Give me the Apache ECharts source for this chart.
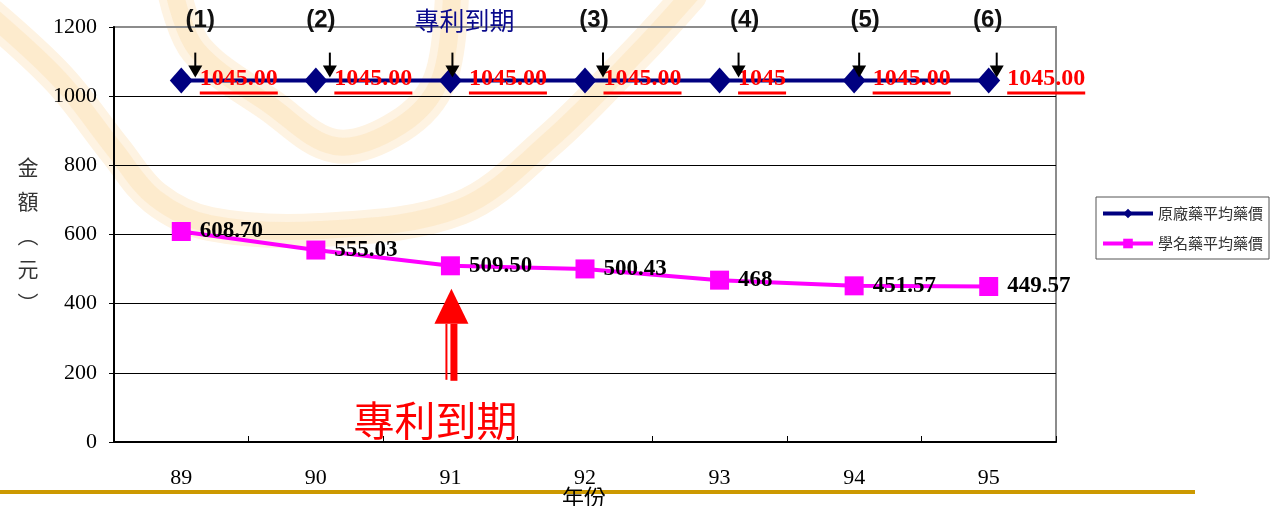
<!DOCTYPE html>
<html>
<head>
<meta charset="utf-8">
<script src="https://cdn.jsdelivr.net/npm/echarts@6/dist/echarts.min.js"></script>
<style>
  html, body { margin: 0; padding: 0; background: #ffffff; }
  #chart { width: 1270px; height: 506px; }
</style>
</head>
<body>
<div id="chart"></div>
<script>
// ---- data ----
const years = ['89', '90', '91', '92', '93', '94', '95'];
const seriesNames = ['原廠藥平均藥價', '學名藥平均藥價'];
const brandPrices = [1045, 1045, 1045, 1045, 1045, 1045, 1045];
const brandDecimals = [2, 2, 2, 2, 0, 2, 2];
const genericPrices = [608.70, 555.03, 509.50, 500.43, 468, 451.57, 449.57];
const genericDecimals = [2, 2, 2, 2, 0, 2, 2];
const eventTags = ['(1)', '(2)', '專利到期', '(3)', '(4)', '(5)', '(6)'];
const expiryYear = '91';
const expiryText = '專利到期';
const yAxisName = ['金', '額', '︵', '元', '︶'];
const xAxisName = '年份';
const yMin = 0, yMax = 1200, yStep = 200;

// ---- layout (pixel offsets relative to each point) ----
const tagDx = [19, 5, 14, 9, 25, 11, -1];
const arrowDx = [14, 14, 2, 18, 19, 5, 8];

const SERIF = '"Liberation Serif", "Times New Roman", serif';
const SANS = '"Liberation Sans", Arial, sans-serif';
const CJK = '"Noto Sans CJK TC", "Noto Sans CJK SC", sans-serif';

const chart = echarts.init(document.getElementById('chart'), null, { renderer: 'canvas' });

const gridLineColors = [];
for (let v = yMin; v <= yMax; v += yStep) gridLineColors.push(v === yMax ? '#8c8c8c' : '#000000');

const option = {
  animation: false,
  backgroundColor: '#ffffff',
  grid: {
    left: 114, right: 214, top: 27, bottom: 64,
    show: true, borderColor: '#8c8c8c', borderWidth: 2, backgroundColor: 'transparent'
  },
  legend: {
    orient: 'vertical',
    left: 1096, top: 197,
    itemWidth: 50, itemHeight: 12, itemGap: 15,
    padding: [9, 6, 8, 5],
    borderColor: '#555555', borderWidth: 1,
    lineStyle: { width: 4 },
    textStyle: { fontFamily: CJK, fontSize: 15, color: '#333333' },
    data: seriesNames
  },
  xAxis: {
    type: 'category',
    data: years,
    boundaryGap: true,
    axisLine: { lineStyle: { color: '#000000', width: 2 } },
    axisTick: { show: true, inside: true, length: 6, lineStyle: { color: '#000000', width: 1 } },
    axisLabel: { margin: 25, fontFamily: SERIF, fontSize: 22, color: '#000000' },
    splitLine: { show: false }
  },
  yAxis: {
    type: 'value',
    min: yMin, max: yMax, interval: yStep,
    axisLine: { show: true, lineStyle: { color: '#000000', width: 2 } },
    axisTick: { show: true, inside: false, length: 5, lineStyle: { color: '#000000' } },
    axisLabel: { margin: 17, fontFamily: SERIF, fontSize: 22, color: '#000000', formatter: v => String(v) },
    splitLine: { show: true, lineStyle: { color: gridLineColors, width: 1 } }
  },
  series: [
    {
      name: seriesNames[0],
      type: 'line',
      data: brandPrices,
      symbol: 'diamond',
      symbolSize: [23, 26],
      lineStyle: { color: '#000080', width: 4 },
      itemStyle: { color: '#000080' },
      label: {
        show: true, position: 'right', distance: 7, offset: [0, -2],
        formatter: p => p.value.toFixed(brandDecimals[p.dataIndex]),
        fontFamily: SERIF, fontWeight: 'bold', fontSize: 24, color: '#ff0000'
      },
      z: 3
    },
    {
      name: seriesNames[1],
      type: 'line',
      data: genericPrices,
      symbol: 'rect',
      symbolSize: 19,
      lineStyle: { color: '#ff00ff', width: 4 },
      itemStyle: { color: '#ff00ff' },
      label: {
        show: true, position: 'right', distance: 9,
        formatter: p => p.value.toFixed(genericDecimals[p.dataIndex]),
        fontFamily: SERIF, fontWeight: 'bold', fontSize: 23, color: '#000000'
      },
      z: 3
    }
  ]
};
chart.setOption(option);

// ---- annotations placed through the chart's own coordinate system ----
const measure = (() => {
  const ctx = document.createElement('canvas').getContext('2d');
  return (text, font) => { ctx.font = font; return ctx.measureText(text).width; };
})();

const toPx = (i, v) => chart.convertToPixel({ xAxisIndex: 0, yAxisIndex: 0 }, [i, v]);

const graphics = [];

// faint background emblem: a soft halo stroke plus a denser core stroke
const outerPath = [[-10, 15], [60, 80], [115, 150], [155, 198], [210, 224], [320, 230], [460, 208], [550, 140], [640, 50], [690, -5]];
const innerPath = [[175, -5], [197, 50], [270, 105], [335, 146], [400, 126], [440, 80], [452, -5]];
[outerPath, innerPath].forEach(pts => {
  graphics.push({
    type: 'polyline', z: -10, silent: true,
    shape: { smooth: 0.35, points: pts },
    style: { stroke: '#fef3e2', lineWidth: 34, fill: null, lineCap: 'round', lineJoin: 'round' }
  });
  graphics.push({
    type: 'polyline', z: -9, silent: true,
    shape: { smooth: 0.35, points: pts },
    style: { stroke: '#fde8c8', lineWidth: 18, fill: null, opacity: 0.8, lineCap: 'round', lineJoin: 'round' }
  });
});

// event markers above the brand-price line
years.forEach((y, i) => {
  const [mx, my] = toPx(i, brandPrices[i]);
  const ax = mx + arrowDx[i];
  const top = my - 28, tip = my - 3;
  graphics.push({ type: 'line', shape: { x1: ax, y1: top, x2: ax, y2: tip - 8 }, style: { stroke: '#000000', lineWidth: 2 }, z: 50 });
  graphics.push({ type: 'polygon', shape: { points: [[ax - 7, tip - 12], [ax + 7, tip - 12], [ax, tip]] }, style: { fill: '#000000' }, z: 50 });
  const isExpiry = eventTags[i] === expiryText;
  graphics.push({
    type: 'text', z: 50,
    x: mx + tagDx[i], y: 20,
    style: {
      text: eventTags[i],
      fontFamily: isExpiry ? CJK : SANS,
      fontWeight: isExpiry ? 'normal' : 'bold',
      fontSize: isExpiry ? 25 : 24,
      fill: isExpiry ? '#0a0a8c' : '#111111',
      align: 'center', verticalAlign: 'middle'
    }
  });
  // underline under each red value label
  const txt = brandPrices[i].toFixed(brandDecimals[i]);
  const w = measure(txt, 'bold 24px ' + SERIF);
  const lx = mx + 18.5;
  graphics.push({ type: 'rect', z: 60, shape: { x: lx, y: my + 11, width: w, height: 3 }, style: { fill: '#ff0000' } });
});

// big red arrow pointing at the expiry year on the generic-price line
(() => {
  const i = years.indexOf(expiryYear);
  const [mx, my] = toPx(i, genericPrices[i]);
  const cx = mx + 1;
  const tipY = my + 23, baseY = my + 58, endY = my + 114;
  graphics.push({ type: 'polygon', z: 40, shape: { points: [[cx, tipY], [cx - 17, baseY], [cx + 17, baseY]] }, style: { fill: '#ff0000' } });
  graphics.push({ type: 'rect', z: 40, shape: { x: cx - 6, y: baseY, width: 2, height: endY - baseY }, style: { fill: '#ff0000' } });
  graphics.push({ type: 'rect', z: 40, shape: { x: cx - 1, y: baseY, width: 7, height: endY - baseY + 1 }, style: { fill: '#ff0000' } });
  graphics.push({
    type: 'text', z: 40,
    x: mx - 15, y: my + 155,
    style: {
      text: expiryText, fontFamily: CJK, fontSize: 41, fill: '#ff0000',
      align: 'center', verticalAlign: 'middle',
      textShadowColor: '#a0a0a0', textShadowOffsetX: -2, textShadowOffsetY: 2, textShadowBlur: 0
    }
  });
})();

// vertical y-axis name
graphics.push({
  type: 'text', z: 30, x: 28, y: 235,
  style: {
    text: yAxisName.join('\n'), fontFamily: CJK, fontSize: 21, lineHeight: 34,
    fill: '#333333', align: 'center', verticalAlign: 'middle'
  }
});

// golden rule along the bottom, with the x-axis name over it
graphics.push({ type: 'rect', z: 20, shape: { x: 0, y: 490, width: 1195, height: 4 }, style: { fill: '#cc9900' } });
graphics.push({
  type: 'text', z: 30, x: 584, y: 497,
  style: { text: xAxisName, fontFamily: CJK, fontSize: 22, fill: '#000000', align: 'center', verticalAlign: 'middle' }
});

chart.setOption({ graphic: { elements: graphics } });
</script>
</body>
</html>
